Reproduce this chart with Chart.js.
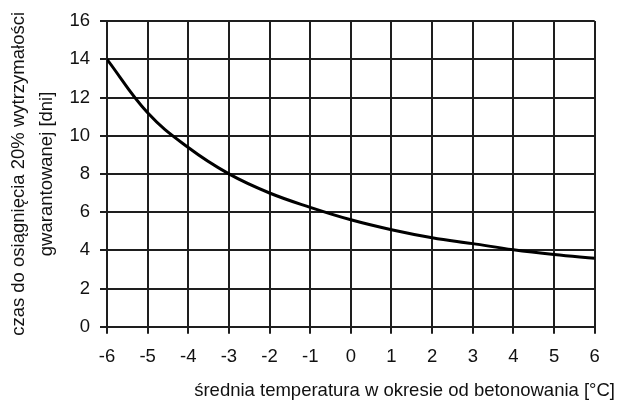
<!DOCTYPE html>
<html><head><meta charset="utf-8">
<script src="https://cdn.jsdelivr.net/npm/chart.js@4"></script>
<style>html,body{margin:0;padding:0;background:#fff}#w{width:618px;height:400px;position:relative}</style>
</head><body><div id="w"><canvas id="c"></canvas></div>
<script>
const temperatures = [-6, -5, -4, -3, -2, -1, 0, 1, 2, 3, 4, 5, 6];
const days = [14, 11.2, 9.38, 8.0, 7.0, 6.25, 5.6, 5.08, 4.66, 4.35, 4.03, 3.78, 3.58];
const xTickValues = [-6, -5, -4, -3, -2, -1, 0, 1, 2, 3, 4, 5, 6];
const yTickValues = [0, 2, 4, 6, 8, 10, 12, 14, 16];
const yTitleLines = ['czas do osiągnięcia 20% wytrzymałości', 'gwarantowanej [dni]'];
const xTitleText = 'średnia temperatura w okresie od betonowania [°C]';

const FONT = "'Liberation Sans', Arial, sans-serif";
const INK = '#111';
const GRID = '#1e1e1e';

const xTitlePlugin = {
  id: 'xTitle',
  afterDraw(chart) {
    const ctx = chart.ctx;
    ctx.save();
    ctx.font = '18.5px ' + FONT;
    ctx.fillStyle = INK;
    ctx.textAlign = 'right';
    ctx.textBaseline = 'alphabetic';
    ctx.fillText(xTitleText, 615, 396);
    ctx.restore();
  }
};

new Chart(document.getElementById('c'), {
  type: 'line',
  data: {
    datasets: [{
      data: temperatures.map((t, i) => ({x: t, y: days[i]})),
      borderColor: '#000',
      borderWidth: 3,
      pointRadius: 0,
      fill: false,
      tension: 0.4
    }]
  },
  options: {
    responsive: true,
    maintainAspectRatio: false,
    animation: false,
    layout: {padding: {left: 5.5, top: 19.5, right: 23.3, bottom: 0}},
    plugins: {legend: {display: false}, tooltip: {enabled: false}},
    scales: {
      x: {
        type: 'linear',
        min: -6, max: 6,
        afterBuildTicks: s => { s.ticks = xTickValues.map(v => ({value: v})); },
        afterFit: s => { s.height = 73.3; },
        border: {color: GRID, width: 2},
        grid: {color: GRID, lineWidth: 2, tickLength: 7, drawTicks: true},
        ticks: {color: INK, font: {family: FONT, size: 18.5}, padding: 12, maxRotation: 0}
      },
      y: {
        type: 'linear',
        min: 0, max: 16,
        afterBuildTicks: s => { s.ticks = yTickValues.map(v => ({value: v})); },
        afterFit: s => { s.width = 101.5; },
        border: {color: GRID, width: 2},
        grid: {color: GRID, lineWidth: 2, tickLength: 7, drawTicks: true},
        ticks: {color: INK, font: {family: FONT, size: 18.5}, padding: 10},
        title: {display: true, text: yTitleLines, color: INK, font: {family: FONT, size: 18.5, lineHeight: 1.5}, padding: 0}
      }
    }
  },
  plugins: [xTitlePlugin]
});
</script>
</body></html>
